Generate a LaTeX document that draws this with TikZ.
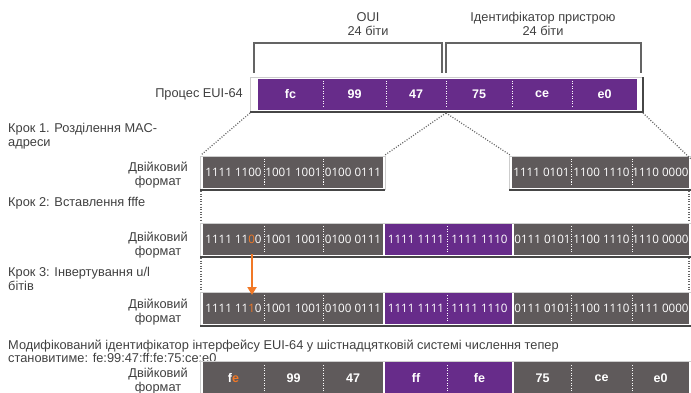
\documentclass[tikz,border=0pt]{standalone}
\usepackage{fontspec}
\setmainfont{Liberation Sans}
\newfontfamily\binfont{Open Sans}
\usetikzlibrary{arrows.meta}
\definecolor{cpurple}{RGB}{103,44,138}
\definecolor{cgray}{RGB}{95,90,91}
\definecolor{corange}{RGB}{241,120,38}
\definecolor{ctext}{RGB}{64,64,64}
\definecolor{cline}{RGB}{100,100,100}
\definecolor{cframe}{RGB}{205,205,205}
\definecolor{cshadow}{RGB}{70,70,70}
\begin{document}
\begin{tikzpicture}[x=1pt,y=-1pt,
  lbl/.style={text=ctext, font=\fontsize{12.8}{14.5}\selectfont, inner sep=0},
  gcell/.style={fill=cgray, inner sep=0, minimum height=31, text=white, font=\binfont\fontsize{11.6}{13}\selectfont},
  pcell/.style={gcell, fill=cpurple},
  hexg/.style={gcell, font=\bfseries\fontsize{12.5}{14}\selectfont},
  hexp/.style={hexg, fill=cpurple},
  divline/.style={white, line width=1pt, dash pattern=on 1pt off 1.5pt},
  link/.style={cline, line width=1.2pt, dash pattern=on 1pt off 1.6pt},
  frameline/.style={cframe, line width=0.8pt},
  shadowline/.style={cshadow, line width=1.3pt},
  bracket/.style={draw=cline, line width=1.2pt},
  uparrow/.style={corange, line width=2.6pt, -{Triangle[length=8pt,width=9pt]}}
]
\useasboundingbox (0,0) rectangle (691,393);

% ---------- bracket + titles ----------
\node[lbl, align=center] (oui) at (368,24) {OUI\\24 біти};
\node[lbl, align=center] (devid) at (543,24) {Ідентифікатор пристрою\\24 біти};
\draw[bracket] (254,73) -- (254,43) -- (442,43) -- (442,73);
\draw[bracket] (446,73) -- (446,43) -- (641,43) -- (641,73);

% ---------- EUI-64 bar ----------
\node[lbl, anchor=east] (proc) at (243,94) {Процес EUI-64};
\draw[frameline] (250,112) -- (250,77) -- (643,77);
\draw[shadowline] (250,112) -- (643,112) -- (643,77);
\node[hexp, minimum width=65] (t1) at (290.5,94.5) {fc};
\node[hexp, minimum width=63] (t2) at (354.5,94.5) {99};
\node[hexp, minimum width=60] (t3) at (416,94.5) {47};
\node[hexp, minimum width=66] (t4) at (479,94.5) {75};
\node[hexp, minimum width=60] (t5) at (542,94.5) {ce};
\node[hexp, minimum width=65] (t6) at (604.5,94.5) {e0};
\foreach \x in {323,386,446,512,572} \draw[divline] (\x,81) -- (\x,108);

% ---------- Step 1 ----------
\node[lbl, anchor=west, align=left] (s1) at (8,136) {Крок 1. Розділення MAC-\\адреси};
\node[lbl, anchor=east, align=center] (bf1) at (188,175) {Двійковий\\формат};
\draw[frameline] (200,190) -- (200,156) -- (385,156) -- (385,190);
\draw[shadowline] (200,190) -- (385,190);
\draw[frameline] (509,190) -- (509,156) -- (691,156);
\draw[shadowline] (509,190) -- (691,190);
\node[gcell, minimum width=61] (a1) at (233.5,172.5) {1111 1100};
\node[gcell, minimum width=59] (a2) at (293.5,172.5) {1001 1001};
\node[gcell, minimum width=60] (a3) at (353,172.5) {0100 0111};
\node[gcell, minimum width=59] (b1) at (541.5,172.5) {1111 0101};
\node[gcell, minimum width=61] (b2) at (601.5,172.5) {1100 1110};
\node[gcell, minimum width=57] (b3) at (660.5,172.5) {1110 0000};
\foreach \x in {264,323,571,632} \draw[divline] (\x,159) -- (\x,186);

% connectors from EUI-64 bar to step 1
\coordinate (tl) at (250,113);
\coordinate (tm) at (446,113);
\coordinate (tr) at (643,113);
\coordinate (r1l) at (201,155);
\coordinate (r1m) at (385,155);
\coordinate (r1n) at (510,155);
\coordinate (r1r) at (691,159);
\draw[link] (tl) -- (r1l);
\draw[link] (tm) -- (r1m);
\draw[link] (tm) -- (r1n);
\draw[link] (tr) -- (r1r);

% ---------- Step 2 ----------
\node[lbl, anchor=west] (s2) at (8,203) {Крок 2: Вставлення fffe};
\node[lbl, anchor=east, align=center] (bf2) at (188,245) {Двійковий\\формат};
\coordinate (r1bl) at (201,191);
\coordinate (r1br) at (689,191);
\coordinate (r2tl) at (201,222);
\coordinate (r2tr) at (689,222);
\draw[link] (r1bl) -- (r2tl);
\draw[link] (r1br) -- (r2tr);
\draw[frameline] (200,257) -- (200,223) -- (691,223);
\draw[shadowline] (200,257) -- (691,257);
\node[gcell, minimum width=61] (c1) at (233.5,239.5) {1111 11\textcolor{corange}{0}0};
\node[gcell, minimum width=59] (c2) at (293.5,239.5) {1001 1001};
\node[gcell, minimum width=60] (c3) at (353,239.5) {0100 0111};
\node[pcell, minimum width=62] (c4) at (416,239.5) {1111 1111};
\node[pcell, minimum width=65] (c5) at (479.5,239.5) {1111 1110};
\node[gcell, minimum width=57] (c6) at (542.5,239.5) {0111 0101};
\node[gcell, minimum width=61] (c7) at (601.5,239.5) {1100 1110};
\node[gcell, minimum width=57] (c8) at (660.5,239.5) {1110 0000};
\foreach \x in {264,323,447,571,632} \draw[divline] (\x,226) -- (\x,253);

% ---------- Step 3 ----------
\node[lbl, anchor=west, align=left] (s3) at (8,279) {Крок 3: Інвертування u/l\\бітів};
\node[lbl, anchor=east, align=center] (bf3) at (188,312) {Двійковий\\формат};
\coordinate (r2bl) at (201,258);
\coordinate (r2br) at (689,258);
\coordinate (r3tl) at (201,291);
\coordinate (r3tr) at (689,291);
\draw[link] (r2bl) -- (r3tl);
\draw[link] (r2br) -- (r3tr);
\draw[frameline] (200,326) -- (200,292) -- (691,292);
\draw[shadowline] (200,326) -- (691,326);
\node[gcell, minimum width=61] (d1) at (233.5,308.5) {1111 11\textcolor{corange}{1}0};
\node[gcell, minimum width=59] (d2) at (293.5,308.5) {1001 1001};
\node[gcell, minimum width=60] (d3) at (353,308.5) {0100 0111};
\node[pcell, minimum width=62] (d4) at (416,308.5) {1111 1111};
\node[pcell, minimum width=65] (d5) at (479.5,308.5) {1111 1110};
\node[gcell, minimum width=57] (d6) at (542.5,308.5) {0111 0101};
\node[gcell, minimum width=61] (d7) at (601.5,308.5) {1100 1110};
\node[gcell, minimum width=57] (d8) at (660.5,308.5) {1111 0000};
\foreach \x in {264,323,447,571,632} \draw[divline] (\x,295) -- (\x,322);
\foreach \x in {384,513} \draw[white, line width=1.6pt] (\x,224) -- (\x,255) (\x,293) -- (\x,324);

% orange arrow
\coordinate (oa) at (252,254);
\coordinate (ob) at (252,295);
\draw[uparrow] (oa) -- (ob);

% ---------- Result ----------
\node[lbl, anchor=west, align=left, font=\fontsize{12.8}{13}\selectfont] (res) at (8,351.5) {Модифікований ідентифікатор інтерфейсу EUI-64 у шістнадцятковій системі числення тепер\\становитиме: fe:99:47:ff:fe:75:ce:e0};
\node[lbl, anchor=east, align=center] (bf4) at (188,381) {Двійковий\\формат};
\draw[frameline] (200,394) -- (200,361) -- (691,361);
\node[hexg, minimum width=61, minimum height=32] (e1) at (233.5,378) {f\textcolor{corange}{e}};
\node[hexg, minimum width=59, minimum height=32] (e2) at (293.5,378) {99};
\node[hexg, minimum width=60, minimum height=32] (e3) at (353,378) {47};
\node[hexp, minimum width=62, minimum height=32] (e4) at (416,378) {ff};
\node[hexp, minimum width=65, minimum height=32] (e5) at (479.5,378) {fe};
\node[hexg, minimum width=57, minimum height=32] (e6) at (542.5,378) {75};
\node[hexg, minimum width=61, minimum height=32] (e7) at (601.5,378) {ce};
\node[hexg, minimum width=57, minimum height=32] (e8) at (660.5,378) {e0};
\foreach \x in {264,323,447,571,632} \draw[divline] (\x,365) -- (\x,394);
\foreach \x in {384,513} \draw[white, line width=1.6pt] (\x,362) -- (\x,394);
\end{tikzpicture}
\end{document}
